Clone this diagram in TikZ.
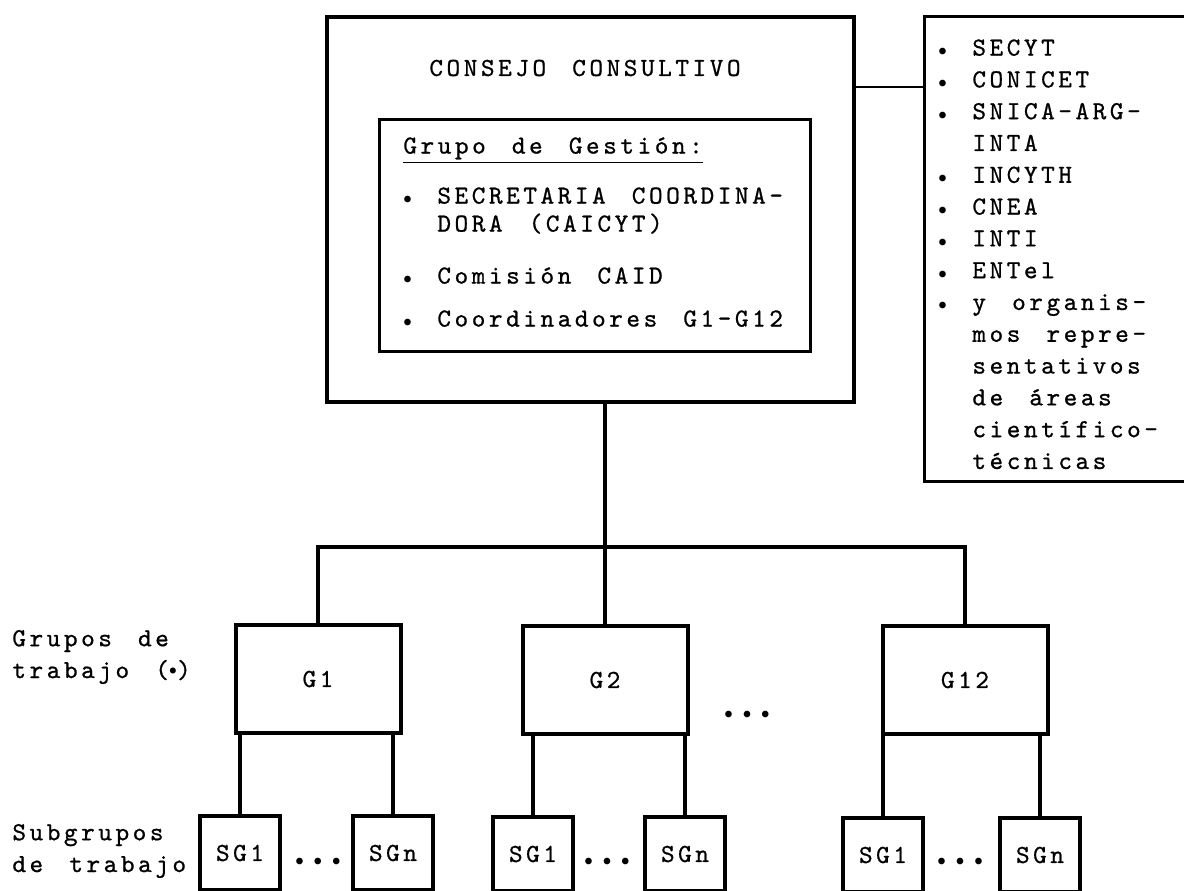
\documentclass[tikz,border=0pt]{standalone}
\usepackage{fontspec}
\setmonofont{lmmono10-regular.otf}[LetterSpace=13.6,WordSpace=1.52,FakeBold=0.8]
\usetikzlibrary{positioning}

\newcommand{\blt}{\makebox[17pt][l]{\footnotesize$\bullet$}}
\newcommand{\puntos}{{\footnotesize$\bullet$\hspace{5pt}$\bullet$\hspace{5pt}$\bullet$}}

\begin{document}
\begin{tikzpicture}[
  x=0.5pt,y=-0.5pt,
  every node/.style={font=\ttfamily\fontsize{13}{15.9}\selectfont,inner sep=0pt},
  caja/.style={draw,line width=1.7pt},
  gbox/.style={caja,line width=2pt,minimum width=82.5pt,minimum height=54pt},
  sgbox/.style={caja,line width=2pt,minimum width=40pt,minimum height=37pt,anchor=north},
  enlace/.style={line width=1.6pt},
]
  \useasboundingbox (0,0) rectangle (1184,890);
  \clip (0,0) rectangle (1184,890);

  % Consejo consultivo
  \node[caja,minimum width=263.5pt,minimum height=192.5pt] (consejo) at (590.5,209.5) {};
  \node (titulo) at (585,68) {CONSEJO CONSULTIVO};
  \node[caja,line width=1.5pt,anchor=north west,minimum width=215.5pt,minimum height=116pt] (gestion) at (378,118) {};
  \node[anchor=north west,align=left,font=\ttfamily\fontsize{13}{14}\selectfont] (gestiontxt) at (403,137) {%
    \underline{Grupo de Gestión:}\\[11pt]
    \blt SECRETARIA COORDINA-\\
    \hspace*{17pt}DORA (CAICYT)\\[12pt]
    \blt Comisión CAID\\[7.5pt]
    \blt Coordinadores G1-G12%
  };

  % Organismos
  \node[caja,line width=1.5pt,anchor=north west,minimum width=140pt,minimum height=232.5pt] (org) at (923,15) {};
  \node[anchor=north west,align=left] (lista) at (938,39) {%
    \blt SECYT\\
    \blt CONICET\\
    \blt SNICA-ARG-\\
    \hspace*{17pt}INTA\\
    \blt INCYTH\\
    \blt CNEA\\
    \blt INTI\\
    \blt ENTel\\
    \blt y organis-\\
    \hspace*{17pt}mos repre-\\
    \hspace*{17pt}sentativos\\
    \hspace*{17pt}de áreas\\
    \hspace*{17pt}científico-\\
    \hspace*{17pt}técnicas%
  };
  \coordinate (entrada) at (923,87);
  \draw[enlace,line width=1.2pt] (consejo.east |- entrada) -- (entrada);

  % Grupos de trabajo
  \node[anchor=west,align=left] (grupos) at (12,657)
    {Grupos de\\trabajo (\raisebox{0.35ex}{\scriptsize$\bullet$})};
  \node[gbox] (g1) at (318,679) {G1};
  \node[gbox] (g2) at (605,680) {G2};
  \node[gbox] (g12) at (965,680) {G12};
  \node (pm) at (747,715) {\puntos};

  \coordinate (barra) at (605,547);
  \draw[enlace] (consejo.south -| g2.north) -- (g2.north);
  \draw[enlace] (g1.north) |- (barra) -| (g12.north);

  % Subgrupos de trabajo
  \node[anchor=west,align=left] (subgrupos) at (12,851) {Subgrupos\\de trabajo};
  \node[sgbox] (sg1a) at (240,814) {SG1};
  \node[sgbox] (sgna) at (393,814) {SGn};
  \node[sgbox] (sg1b) at (533,815) {SG1};
  \node[sgbox] (sgnb) at (685,815) {SGn};
  \node[sgbox] (sg1c) at (883,816) {SG1};
  \node[sgbox] (sgnc) at (1040,816) {SGn};
  \node (pa) at (318,862) {\puntos};
  \node (pb) at (607,862) {\puntos};
  \node (pc) at (960,862) {\puntos};

  \foreach \g/\s in {g1/sg1a,g1/sgna,g2/sg1b,g2/sgnb,g12/sg1c,g12/sgnc}
    \draw[enlace] (\s.north) -- (\s.north |- \g.south);
\end{tikzpicture}
\end{document}
